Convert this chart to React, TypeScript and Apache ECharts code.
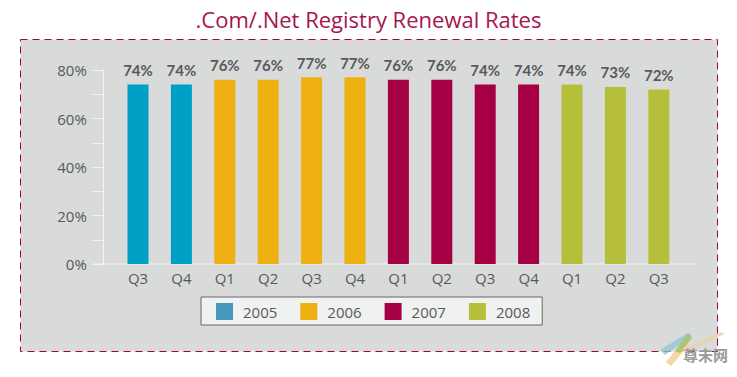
import React, { useEffect, useRef } from "react";
import * as echarts from "echarts";

const categories = ["Q3", "Q4", "Q1", "Q2", "Q3", "Q4", "Q1", "Q2", "Q3", "Q4", "Q1", "Q2", "Q3"];
const s2005 = [74, 74, null, null, null, null, null, null, null, null, null, null, null];
const s2006 = [null, null, 76, 76, 77, 77, null, null, null, null, null, null, null];
const s2007 = [null, null, null, null, null, null, 76, 76, 74, 74, null, null, null];
const s2008 = [null, null, null, null, null, null, null, null, null, null, 74, 73, 72];
const yTicks = [0, 20, 40, 60, 80];
const title = ".Com/.Net Registry Renewal Rates";

const barSeries = (name: string, data: (number | null)[], color: string) => ({
  name,
  type: "bar",
  data,
  barWidth: 21,
  barGap: "-100%",
  itemStyle: { color },
  label: {
    show: true,
    position: "top",
    distance: 7,
    formatter: "{c}%",
    color: "#58595b",
    fontFamily: "Lato, sans-serif",
    fontWeight: "bold",
    fontSize: 15,
  },
});

export default function App() {
  const ref = useRef<HTMLDivElement>(null);
  useEffect(() => {
    document.body.style.margin = "0";
    document.body.style.background = "#fff";
    const chart = echarts.init(ref.current!, null, { renderer: "svg" });
    chart.setOption({
      animation: false,
      backgroundColor: "#ffffff",
      textStyle: { fontFamily: "'Open Sans', sans-serif" },
      title: {
        text: title,
        left: "center",
        top: 3,
        textStyle: { color: "#a6154f", fontSize: 22, fontWeight: "normal", fontFamily: "'Open Sans', sans-serif" },
      },
      grid: { left: 116.3, top: 70, width: 564.2, height: 194 },
      xAxis: {
        type: "category",
        data: categories,
        axisLine: { show: false },
        axisTick: { show: false },
        axisLabel: { color: "#58595b", fontSize: 15, margin: 6, interval: 0, fontFamily: "'Open Sans', sans-serif" },
      },
      yAxis: {
        type: "value",
        min: 0,
        max: 80,
        interval: 10,
        offset: 13.5,
        splitLine: { show: false },
        axisLine: { show: true, lineStyle: { color: "#f4f4f4", width: 1 } },
        axisTick: { show: true, length: 10, lineStyle: { color: "#f4f4f4", width: 1 } },
        axisLabel: {
          color: "#58595b",
          fontSize: 15,
          margin: 16,
          fontFamily: "'Open Sans', sans-serif",
          formatter: (v: number) => (yTicks.includes(v) ? `${v}%` : ""),
        },
      },
      legend: {
        left: 201,
        top: 297,
        padding: [6, 12, 5, 15],
        itemWidth: 17,
        itemHeight: 17,
        itemGap: 23,
        backgroundColor: "#f0f1f1",
        borderColor: "#666666",
        borderWidth: 1,
        borderRadius: 0,
        icon: "rect",
        textStyle: { color: "#58595b", fontSize: 15, fontFamily: "'Open Sans', sans-serif", padding: [0, 0, 0, 5] },
        data: [
          { name: "2005", itemStyle: { color: "#4a97bd" } },
          { name: "2006" },
          { name: "2007" },
          { name: "2008" },
        ],
      },
      series: [
        barSeries("2005", s2005, "#00a0c6"),
        barSeries("2006", s2006, "#eeb111"),
        barSeries("2007", s2007, "#a50044"),
        barSeries("2008", s2008, "#b6bf3a"),
      ],
      graphic: [
        {
          type: "rect",
          z: -10,
          shape: { x: 20.5, y: 39.5, width: 697, height: 312 },
          style: { fill: "#d9dbda", stroke: "#a50044", lineWidth: 1, lineDash: [7, 5] },
        },
        {
          type: "line",
          z: -5,
          shape: { x1: 93, y1: 264, x2: 695, y2: 264 },
          style: { stroke: "#f4f4f4", lineWidth: 1 },
        },
        {
          type: "polygon",
          z: 20,
          shape: { points: [[660, 350], [688, 333], [692, 336], [665, 355]] },
          style: { fill: "#8fc7d2", opacity: 0.8 },
        },
        {
          type: "polygon",
          z: 20,
          shape: { points: [[666, 362], [683, 341], [689, 345], [671, 366]] },
          style: { fill: "#f3d39a", opacity: 0.9 },
        },
        {
          type: "polygon",
          z: 20,
          shape: { points: [[675, 351], [688, 333], [692, 338], [680, 353]] },
          style: { fill: "#a6c46e", opacity: 0.9 },
        },
        {
          type: "polygon",
          z: 20,
          shape: { points: [[688, 347], [722, 332], [724, 334], [690, 350]] },
          style: { fill: "#efcf9c", opacity: 0.8 },
        },
        {
          type: "text",
          z: 21,
          x: 683,
          y: 347,
          style: { text: "尊未网", fill: "#9a9a9a", fontSize: 15, fontWeight: "bold", fontFamily: "'Noto Sans CJK SC', sans-serif" },
        },
      ],
    });
    return () => chart.dispose();
  }, []);
  return <div ref={ref} style={{ position: "fixed", left: 0, top: 0, width: 737, height: 377 }} />;
}
